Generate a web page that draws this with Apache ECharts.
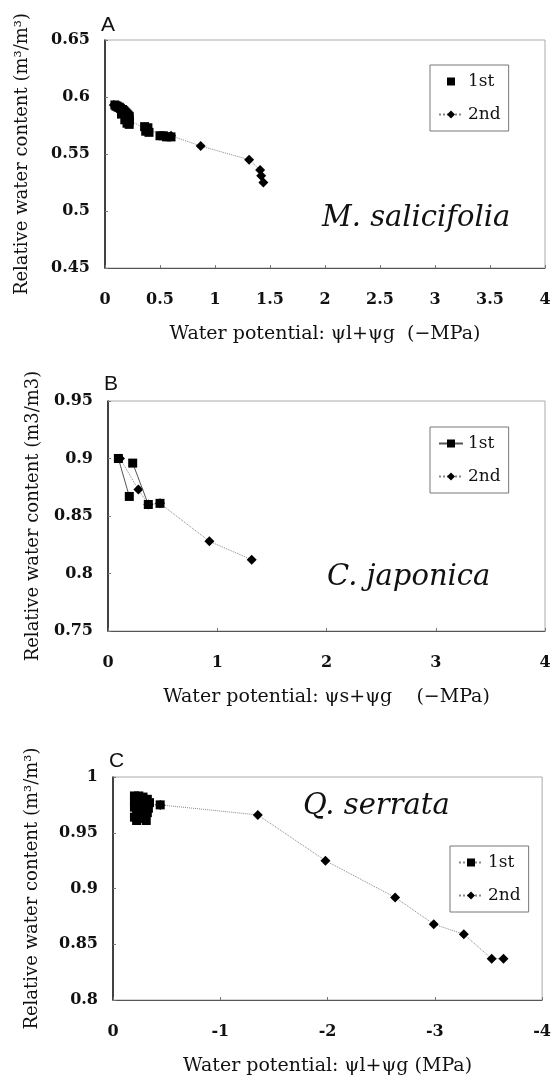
<!DOCTYPE html>
<html>
<head>
<meta charset="utf-8">
<script src="https://cdn.jsdelivr.net/npm/echarts@6/dist/echarts.min.js"></script>
<style>
  html, body { margin: 0; padding: 0; background: #fff; }
  #chart { width: 554px; height: 1080px; }
</style>
</head>
<body>
<div id="chart"></div>
<script>
// panel A - M. salicifolia
const aXTicks = [0, 0.5, 1, 1.5, 2, 2.5, 3, 3.5, 4];
const aYTicks = [0.45, 0.5, 0.55, 0.6, 0.65];
const a1st = [[0.09, 0.593], [0.1, 0.592], [0.11, 0.592], [0.12, 0.591], [0.13, 0.591], [0.14, 0.59],
  [0.15, 0.589], [0.16, 0.589], [0.17, 0.588], [0.18, 0.587], [0.19, 0.586], [0.2, 0.585],
  [0.21, 0.584], [0.22, 0.583], [0.22, 0.581], [0.22, 0.579], [0.21, 0.578], [0.2, 0.577],
  [0.22, 0.576], [0.18, 0.58], [0.15, 0.585], [0.36, 0.574], [0.39, 0.573], [0.37, 0.57],
  [0.4, 0.569], [0.5, 0.566], [0.53, 0.566], [0.56, 0.565], [0.6, 0.565]];
const a2nd = [[0.08, 0.593], [0.11, 0.592], [0.14, 0.59], [0.17, 0.586], [0.19, 0.583], [0.22, 0.58],
  [0.38, 0.571], [0.6, 0.566], [0.87, 0.557], [1.31, 0.545], [1.41, 0.536], [1.42, 0.531], [1.44, 0.525]];

// panel B - C. japonica (1st is drawn as separate short runs)
const bXTicks = [0, 1, 2, 3, 4];
const bYTicks = [0.75, 0.8, 0.85, 0.9, 0.95];
const b1stRuns = [
  [[0.095, 0.9], [0.195, 0.867]],
  [[0.226, 0.896], [0.369, 0.86]],
  [[0.476, 0.861]]
];
const b2nd = [[0.11, 0.9], [0.278, 0.873], [0.369, 0.86], [0.476, 0.861], [0.928, 0.828], [1.315, 0.812]];

// panel C - Q. serrata
const cXTicks = [-4, -3, -2, -1, 0];
const cYTicks = [0.8, 0.85, 0.9, 0.95, 1];
const c1st = [[-0.2, 0.983], [-0.24, 0.983], [-0.28, 0.982], [-0.32, 0.98], [-0.34, 0.977],
  [-0.3, 0.977], [-0.25, 0.978], [-0.2, 0.978], [-0.2, 0.973], [-0.25, 0.973], [-0.3, 0.973],
  [-0.33, 0.972], [-0.32, 0.968], [-0.27, 0.968], [-0.22, 0.968], [-0.2, 0.964], [-0.25, 0.963],
  [-0.3, 0.963], [-0.31, 0.961], [-0.22, 0.961], [-0.3, 0.976], [-0.44, 0.975]];
const c2nd = [[-0.3, 0.976], [-0.44, 0.975], [-1.35, 0.966], [-1.98, 0.925], [-2.63, 0.892], [-2.99, 0.868],
  [-3.27, 0.859], [-3.53, 0.837], [-3.64, 0.837]];

const SERIF = '"DejaVu Serif", serif';

// join runs with a gap point so the line breaks between them
function withGaps(runs) {
  const out = [];
  runs.forEach((run, i) => {
    if (i > 0) out.push(['-', '-']);
    run.forEach(p => out.push(p));
  });
  return out;
}

const panels = [
  {
    key: 'A', letterY: 25, species: 'M. salicifolia', speciesX: 322, speciesY: 218,
    grid: { left: 105, top: 40, width: 440, height: 228 },
    xTicks: aXTicks, yTicks: aYTicks,
    xName: 'Water potential: ψl+ψg  (−MPa)', yName: 'Relative water content (m³/m³)', yGap: 74,
    legend: { left: 430, top: 65 },
    first: a1st, firstLine: { width: 0, opacity: 0 }, second: a2nd
  },
  {
    key: 'B', letterY: 384, species: 'C. japonica', speciesX: 327, speciesY: 577,
    grid: { left: 108, top: 401, width: 437, height: 230 },
    xTicks: bXTicks, yTicks: bYTicks,
    xName: 'Water potential: ψs+ψg    (−MPa)', yName: 'Relative water content (m3/m3)', yGap: 66,
    legend: { left: 430, top: 427 },
    first: withGaps(b1stRuns), firstLine: { color: '#555', width: 1 }, second: b2nd
  },
  {
    key: 'C', letterY: 761, species: 'Q. serrata', speciesX: 303, speciesY: 806,
    grid: { left: 113, top: 777, width: 432, height: 223 },
    xTicks: cXTicks, yTicks: cYTicks, xInverse: true,
    xName: 'Water potential: ψl+ψg (MPa)', yName: 'Relative water content (m³/m³)', yGap: 72,
    legend: { left: 450, top: 846 },
    first: c1st, firstLine: { color: '#888', width: 1, type: 'dotted' }, second: c2nd
  }
];

const step = t => +(t[1] - t[0]).toFixed(4);

const option = {
  animation: false,
  backgroundColor: '#fff',
  grid: panels.map(p => ({ ...p.grid, show: true, borderColor: '#aaa', borderWidth: 1, backgroundColor: 'transparent' })),
  xAxis: panels.map((p, i) => ({
    type: 'value', gridIndex: i,
    min: p.xTicks[0], max: p.xTicks[p.xTicks.length - 1], interval: step(p.xTicks),
    inverse: !!p.xInverse,
    name: p.xName, nameLocation: 'middle', nameGap: 57,
    nameTextStyle: { fontFamily: SERIF, fontSize: 19, color: '#111' },
    axisLine: { show: true, onZero: false, lineStyle: { color: '#555', width: 1 } },
    axisTick: { show: true, inside: true, length: 3, lineStyle: { color: '#777' } },
    axisLabel: { fontFamily: SERIF, fontWeight: 'bold', fontSize: 16, color: '#111', margin: 24 },
    splitLine: { show: false }
  })),
  yAxis: panels.map((p, i) => ({
    type: 'value', gridIndex: i,
    min: p.yTicks[0], max: p.yTicks[p.yTicks.length - 1], interval: step(p.yTicks),
    name: p.yName, nameLocation: 'middle', nameRotate: 90, nameGap: p.yGap,
    nameTextStyle: { fontFamily: SERIF, fontSize: 18, color: '#111' },
    axisLine: { show: true, onZero: false, lineStyle: { color: '#111', width: 1.5 } },
    axisTick: { show: true, inside: true, length: 3, lineStyle: { color: '#777' } },
    axisLabel: { fontFamily: SERIF, fontWeight: 'bold', fontSize: 16, color: '#111', margin: 15 },
    splitLine: { show: false }
  })),
  legend: panels.map(p => ({
    ...p.legend,
    orient: 'vertical',
    data: [p.key + ' 1st', p.key + ' 2nd'],
    formatter: name => name.split(' ')[1],
    padding: [8, 8, 8, 8],
    itemGap: 16,
    itemWidth: 24,
    itemHeight: 10,
    borderColor: '#777',
    borderWidth: 1,
    textStyle: { fontFamily: SERIF, fontSize: 17, color: '#111' }
  })),
  graphic: panels.flatMap(p => [
    {
      type: 'text', x: p.grid.left - 4, y: p.letterY,
      style: { text: p.key, font: '21px "Liberation Sans", Arial, sans-serif', fill: '#111', verticalAlign: 'middle' }
    },
    {
      type: 'text', x: p.speciesX, y: p.speciesY,
      style: { text: p.species, font: 'italic 29px "DejaVu Serif", serif', fill: '#111', verticalAlign: 'middle' }
    }
  ]),
  series: panels.flatMap((p, i) => [
    {
      name: p.key + ' 2nd', type: 'line', xAxisIndex: i, yAxisIndex: i,
      data: p.second, symbol: 'diamond', symbolSize: 10, showSymbol: true,
      itemStyle: { color: '#000' },
      lineStyle: { color: '#888', width: 1, type: 'dotted' },
      z: 2
    },
    {
      name: p.key + ' 1st', type: 'line', xAxisIndex: i, yAxisIndex: i,
      data: p.first, symbol: 'rect', symbolSize: 9, showSymbol: true, connectNulls: false,
      itemStyle: { color: '#000' },
      lineStyle: p.firstLine,
      z: 3
    }
  ])
};

const chart = echarts.init(document.getElementById('chart'), null, { renderer: 'canvas' });
chart.setOption(option);
</script>
</body>
</html>
